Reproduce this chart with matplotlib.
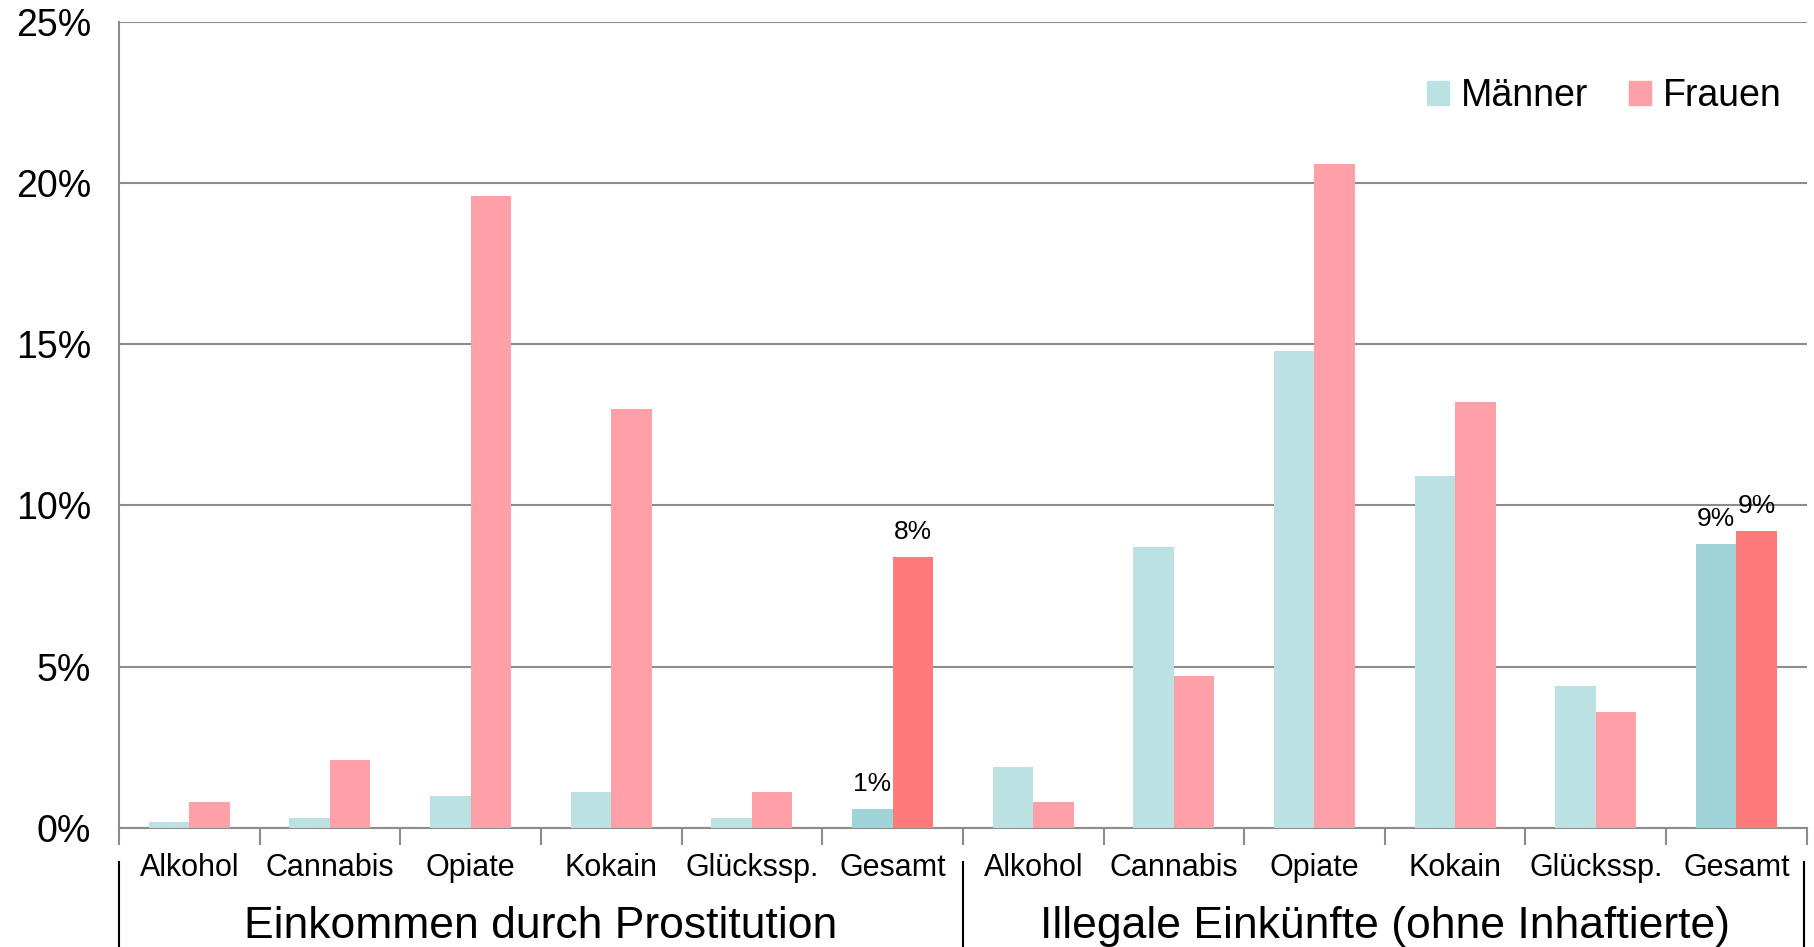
import numpy as np
import matplotlib.pyplot as plt
from matplotlib.patches import Patch

plt.rcParams['font.family'] = ['Liberation Sans', 'DejaVu Sans']

kategorien = ['Alkohol', 'Cannabis', 'Opiate', 'Kokain', 'Glückssp.', 'Gesamt']
gruppen = ['Einkommen durch Prostitution', 'Illegale Einkünfte (ohne Inhaftierte)']

# Prostitution, dann illegale Einkünfte (in %)
maenner = [0.2, 0.3, 1.0, 1.1, 0.3, 0.6, 1.9, 8.7, 14.8, 10.9, 4.4, 8.8]
frauen = [0.8, 2.1, 19.6, 13.0, 1.1, 8.4, 0.8, 4.7, 20.6, 13.2, 3.6, 9.2]
beschriftung_m = {5: '1%', 11: '9%'}
beschriftung_f = {5: '8%', 11: '9%'}

c_m, c_f = '#bce1e3', '#ffa0a8'
c_m2, c_f2 = '#a0d4d8', '#ff7a7a'

fig = plt.figure(figsize=(18.14, 9.47), dpi=100)
ax = fig.add_axes([0.0656, 0.1257, 0.9304, 0.8513])

x = np.arange(len(maenner))
w = 0.288
farben_m = [c_m2 if i % 6 == 5 else c_m for i in x]
farben_f = [c_f2 if i % 6 == 5 else c_f for i in x]
ax.bar(x - w / 2, maenner, w, color=farben_m, zorder=3)
ax.bar(x + w / 2, frauen, w, color=farben_f, zorder=3)

for i, t in beschriftung_m.items():
    ax.text(i - w / 2, maenner[i] + 0.4, t, ha='center', va='bottom', fontsize=19)
for i, t in beschriftung_f.items():
    ax.text(i + w / 2, frauen[i] + 0.4, t, ha='center', va='bottom', fontsize=19)

ax.set_xlim(-0.5, 11.5)
ax.set_ylim(0, 25)
ax.set_yticks(np.arange(0, 26, 5))
ax.set_yticklabels([f'{v}%' for v in range(0, 26, 5)], fontsize=27)
ax.yaxis.grid(True, color='#8c8c8c', linewidth=1.5, zorder=0)
ax.tick_params(axis='y', length=0, pad=20)
ax.set_xticks(np.arange(-0.5, 12, 1))
ax.set_xticklabels([])
ax.tick_params(axis='x', length=12, width=1.5, color='#8c8c8c')
for s in ['top', 'right']:
    ax.spines[s].set_visible(False)
for s in ['left', 'bottom']:
    ax.spines[s].set_color('#8c8c8c')
    ax.spines[s].set_linewidth(1.5)

tr = ax.get_xaxis_transform()
for i in x:
    ax.text(i, -0.050, kategorien[i % 6], transform=tr, ha='center', va='center', fontsize=22)
for g, name in enumerate(gruppen):
    ax.text(g * 6 + 2.5, -0.122, name, transform=tr, ha='center', va='center', fontsize=32)
for xs in [-0.5, 5.5, 11.48]:
    ax.plot([xs, xs], [-0.042, -0.146], transform=tr, color='black', linewidth=1.5, clip_on=False)

ax.legend(handles=[Patch(color=c_m, label='Männer'), Patch(color=c_f, label='Frauen')],
          loc='upper right', bbox_to_anchor=(1.005, 0.972), ncol=2, frameon=False, fontsize=27,
          handlelength=0.6, handleheight=0.6, handletextpad=0.3, columnspacing=1.1)

fig.savefig('out.png')
